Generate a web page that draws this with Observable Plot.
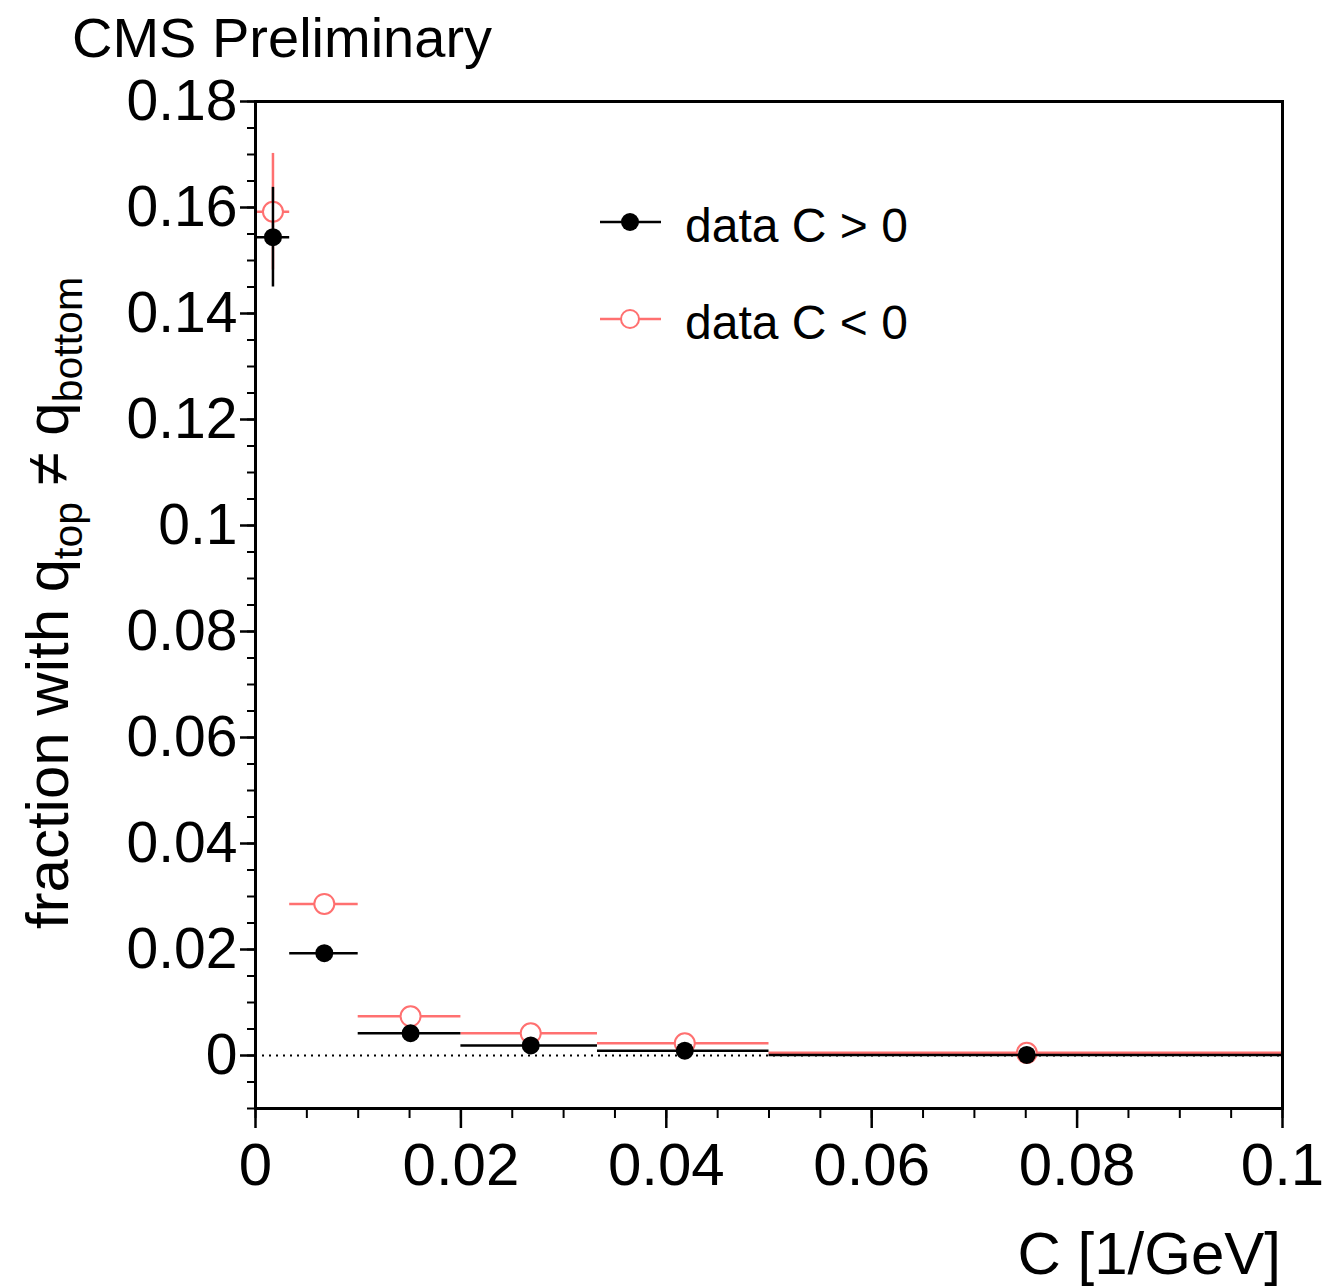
<!DOCTYPE html>
<html>
<head>
<meta charset="utf-8">
<script src="https://cdn.jsdelivr.net/npm/d3@7"></script>
<script src="https://cdn.jsdelivr.net/npm/@observablehq/plot@0.6"></script>
<style>
  body { margin: 0; background: #fff; }
</style>
</head>
<body>
<div id="chart"></div>
<script>
// Bins in curvature C = 1/pT (edges at pT = 300, 100, 50, 30, 20, 10 GeV)
const binLow    = [0, 0.00333, 0.01, 0.02, 0.0333, 0.05];
const binHigh   = [0.00333, 0.01, 0.02, 0.0333, 0.05, 0.1];
const binCenter = [0.0017, 0.0067, 0.0151, 0.0268, 0.0418, 0.0751];

// Fraction of tracks with q_top != q_bottom, positive curvature
const fracPos = [0.1544, 0.0193, 0.0042, 0.0019, 0.0009, 0.0001];
const errPos  = [0.0094, 0.0010, 0.0006, 0.0004, 0.0003, 0.0001];

// Same for negative curvature
const fracNeg = [0.1592, 0.0286, 0.0074, 0.0042, 0.0023, 0.0005];
const errNeg  = [0.0110, 0.0013, 0.0008, 0.0005, 0.0004, 0.0002];

// Axis ticks
const xTicks = [0, 0.02, 0.04, 0.06, 0.08, 0.1];
const yTicks = [0, 0.02, 0.04, 0.06, 0.08, 0.1, 0.12, 0.14, 0.16, 0.18];
const xMinor = d3.range(0, 21).map(i => +(i * 0.005).toFixed(3));
const yMinor = d3.range(-2, 37).map(i => +(i * 0.005).toFixed(3));

const seriesLabels = ["data C > 0", "data C < 0"];

const rows = binLow.map((lo, i) => ({
  lo, hi: binHigh[i], c: binCenter[i],
  pos: fracPos[i], posErr: errPos[i],
  neg: fracNeg[i], negErr: errNeg[i]
}));

const red = "#ff7070";
const font = "'Liberation Sans', Arial, Helvetica, sans-serif";
const fmt = d => String(+d.toFixed(3));

const chart = Plot.plot({
  width: 1325,
  height: 1287,
  marginLeft: 255,
  marginRight: 43,
  marginTop: 101,
  marginBottom: 179,
  x: { domain: [0, 0.1] },
  y: { domain: [-0.01, 0.18] },
  style: { fontFamily: font, background: "white", color: "black" },
  marks: [
    // reference line at zero
    Plot.ruleY([0], { stroke: "black", strokeWidth: 2, strokeDasharray: "2,5" }),

    // C < 0: open red circles with bin-width and stat error bars
    Plot.ruleY(rows, { x1: "lo", x2: "hi", y: "neg", stroke: red, strokeWidth: 2.5 }),
    Plot.ruleX(rows, { x: "c", y1: d => d.neg - d.negErr, y2: d => d.neg + d.negErr, stroke: red, strokeWidth: 2.5 }),
    Plot.dot(rows, { x: "c", y: "neg", r: 10, fill: "white", stroke: red, strokeWidth: 2 }),

    // C > 0: filled black circles
    Plot.ruleY(rows, { x1: "lo", x2: "hi", y: "pos", stroke: "black", strokeWidth: 2.5 }),
    Plot.ruleX(rows, { x: "c", y1: d => d.pos - d.posErr, y2: d => d.pos + d.posErr, stroke: "black", strokeWidth: 2.5 }),
    Plot.dot(rows, { x: "c", y: "pos", r: 9, fill: "black" }),

    // axes
    Plot.axisY(yMinor, { anchor: "left", tickSize: 8, tickFormat: () => "", strokeWidth: 2, label: null }),
    Plot.axisY(yTicks, { anchor: "left", tickSize: 15, tickPadding: 3, fontSize: 57, strokeWidth: 2.5, tickFormat: fmt, label: null }),
    Plot.axisX(xMinor, { anchor: "bottom", tickSize: 10, tickFormat: () => "", strokeWidth: 2, label: null }),
    Plot.axisX(xTicks, { anchor: "bottom", tickSize: 20, tickPadding: 14, fontSize: 60, strokeWidth: 2.5, tickFormat: fmt, label: null }),
    Plot.frame({ stroke: "black", strokeWidth: 3 })
  ]
});

document.getElementById("chart").appendChild(chart);

const svg = d3.select(chart);

// header
svg.append("text")
  .attr("x", 72).attr("y", 57)
  .attr("text-anchor", "start")
  .attr("font-size", 56).attr("font-family", font).attr("fill", "black")
  .text("CMS Preliminary");

// x axis title
svg.append("text")
  .attr("x", 1281).attr("y", 1274)
  .attr("text-anchor", "end")
  .attr("font-size", 60).attr("font-family", font).attr("fill", "black")
  .text("C [1/GeV]");

// y axis title with subscripts
const yl = svg.append("text")
  .attr("transform", "translate(68,603) rotate(-90)")
  .attr("text-anchor", "middle")
  .attr("font-size", 60).attr("font-family", font).attr("fill", "black");
yl.append("tspan").text("fraction with q");
yl.append("tspan").attr("font-size", 41).attr("dy", 14).text("top");
yl.append("tspan").attr("dy", -14).text(" \u2260 q");
yl.append("tspan").attr("font-size", 41).attr("dy", 14).text("bottom");

// legend
const legend = svg.append("g")
  .attr("font-family", font).attr("font-size", 48).attr("text-anchor", "start");
const entries = [
  { label: seriesLabels[0], y: 222, stroke: "black", fill: "black", r: 9, sw: 0 },
  { label: seriesLabels[1], y: 319, stroke: red, fill: "white", r: 9, sw: 2 }
];
for (const e of entries) {
  legend.append("line")
    .attr("x1", 600).attr("x2", 661).attr("y1", e.y).attr("y2", e.y)
    .attr("stroke", e.stroke).attr("stroke-width", 2.5);
  legend.append("circle")
    .attr("cx", 630).attr("cy", e.y).attr("r", e.r)
    .attr("fill", e.fill).attr("stroke", e.sw ? e.stroke : "none").attr("stroke-width", e.sw);
  legend.append("text")
    .attr("x", 685).attr("y", e.y + 20)
    .attr("fill", "black")
    .text(e.label);
}
</script>
</body>
</html>
